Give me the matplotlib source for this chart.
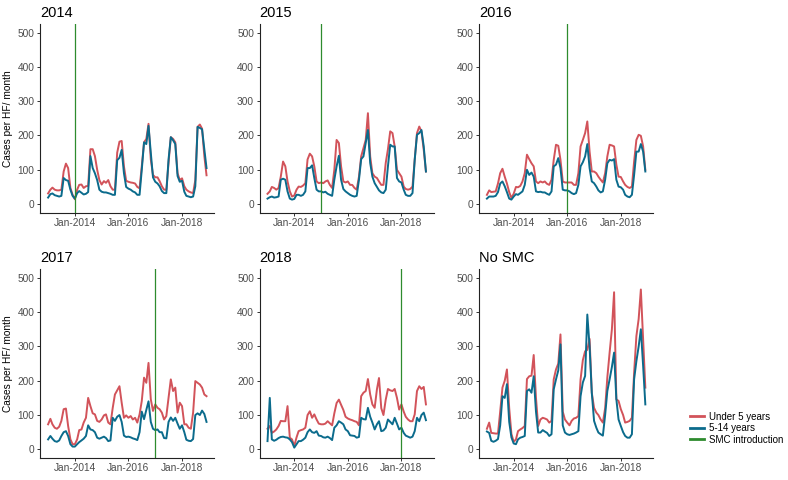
import matplotlib
matplotlib.use('Agg')
import matplotlib.pyplot as plt
import matplotlib.dates as mdates
from matplotlib.lines import Line2D
import pandas as pd

plt.rcParams['font.family'] = ['Liberation Sans', 'DejaVu Sans']

# monthly data, Jan 2013 - Dec 2018
months = pd.date_range('2013-01-01', periods=72, freq='MS')

panels = ['2014', '2015', '2016', '2017', '2018', 'No SMC']
smc_start = ['2014-01-01', '2015-01-01', '2016-01-01', '2017-01-01', '2018-01-01', None]

u5_2014 = [31, 42, 48, 42, 40, 40, 42, 95, 118, 105, 47, 27,
           14, 42, 56, 57, 47, 52, 53, 160, 160, 140, 100, 70,
           57, 67, 62, 70, 52, 42, 42, 150, 182, 184, 110, 68,
           65, 63, 62, 60, 50, 46, 110, 180, 190, 234, 130, 85,
           78, 78, 67, 52, 42, 42, 120, 195, 190, 180, 90, 70,
           75, 52, 42, 37, 34, 32, 70, 225, 232, 220, 140, 84]
o5_2014 = [19, 29, 31, 26, 24, 22, 24, 76, 70, 68, 42, 24,
           16, 32, 38, 33, 28, 30, 35, 140, 105, 90, 70, 42,
           36, 34, 34, 32, 30, 27, 27, 128, 135, 158, 90, 50,
           45, 42, 37, 34, 27, 27, 100, 180, 175, 228, 150, 78,
           65, 60, 52, 38, 32, 32, 130, 195, 186, 175, 82, 65,
           68, 36, 24, 22, 20, 22, 52, 225, 222, 218, 160, 105]

u5_2015 = [30, 37, 50, 47, 42, 47, 80, 124, 110, 66, 37, 22,
           25, 42, 51, 50, 54, 61, 130, 147, 139, 110, 66, 61,
           63, 61, 66, 69, 56, 47, 100, 187, 178, 110, 66, 63,
           66, 56, 56, 47, 42, 80, 139, 163, 187, 265, 139, 90,
           80, 76, 66, 56, 56, 120, 160, 212, 207, 168, 100, 90,
           80, 51, 44, 42, 44, 51, 130, 207, 226, 212, 158, 95]
o5_2015 = [16, 20, 22, 19, 20, 22, 71, 74, 71, 37, 16, 13,
           15, 27, 27, 24, 27, 37, 105, 105, 113, 76, 42, 37,
           37, 34, 36, 30, 27, 24, 71, 110, 141, 71, 44, 37,
           32, 27, 24, 22, 24, 71, 131, 139, 178, 216, 120, 80,
           61, 50, 40, 34, 32, 42, 110, 173, 168, 168, 76, 66,
           63, 42, 27, 24, 24, 32, 129, 202, 207, 216, 168, 95]

u5_2016 = [27, 40, 35, 36, 37, 60, 90, 103, 80, 60, 35, 18,
           30, 50, 49, 53, 66, 90, 144, 131, 119, 110, 66, 61,
           66, 63, 66, 59, 56, 71, 129, 173, 170, 129, 66, 63,
           63, 63, 63, 56, 56, 90, 168, 187, 207, 241, 153, 95,
           95, 90, 80, 71, 63, 90, 139, 173, 171, 168, 115, 80,
           79, 66, 56, 50, 47, 51, 124, 187, 202, 199, 168, 100]
o5_2016 = [16, 22, 22, 22, 24, 35, 60, 66, 52, 35, 16, 13,
           22, 29, 27, 32, 37, 56, 100, 85, 92, 80, 37, 35,
           36, 34, 34, 30, 27, 37, 110, 115, 134, 105, 42, 40,
           40, 37, 32, 29, 32, 56, 110, 122, 139, 175, 105, 66,
           61, 51, 40, 34, 37, 71, 119, 129, 127, 131, 71, 51,
           49, 42, 27, 22, 20, 27, 85, 153, 153, 175, 153, 95]

u5_2017 = [73, 89, 73, 63, 60, 66, 83, 117, 119, 68, 29, 15,
           15, 29, 56, 58, 78, 92, 150, 126, 105, 102, 83, 80,
           87, 99, 102, 78, 73, 121, 160, 172, 184, 136, 92, 99,
           92, 97, 87, 92, 78, 102, 141, 209, 194, 252, 146, 112,
           131, 121, 117, 107, 87, 97, 150, 204, 170, 180, 107, 136,
           126, 73, 73, 63, 60, 107, 199, 194, 189, 180, 160, 155]
o5_2017 = [29, 39, 31, 24, 22, 26, 39, 50, 53, 39, 15, 8,
           8, 15, 21, 26, 31, 39, 70, 58, 56, 50, 34, 31,
           34, 37, 33, 24, 26, 92, 83, 95, 100, 80, 40, 36,
           37, 35, 32, 30, 27, 50, 110, 88, 115, 140, 80, 60,
           56, 58, 50, 50, 33, 32, 80, 93, 83, 92, 75, 60,
           70, 50, 28, 25, 24, 30, 100, 105, 100, 113, 103, 80]

u5_2018 = [60, 68, 48, 52, 58, 68, 83, 82, 82, 126, 34, 29,
           10, 35, 53, 56, 58, 63, 100, 111, 92, 102, 87, 75,
           73, 73, 75, 82, 76, 70, 105, 135, 145, 130, 115, 95,
           90, 87, 85, 82, 80, 70, 155, 165, 170, 205, 160, 131,
           121, 175, 208, 120, 100, 145, 176, 172, 170, 176, 150, 116,
           131, 110, 95, 87, 82, 82, 102, 170, 184, 176, 182, 131]
o5_2018 = [24, 150, 29, 25, 28, 33, 36, 37, 35, 34, 29, 21,
           5, 15, 24, 24, 28, 34, 50, 58, 50, 48, 53, 40,
           39, 35, 34, 37, 33, 27, 63, 70, 82, 78, 73, 58,
           53, 41, 40, 39, 34, 36, 92, 88, 87, 121, 95, 78,
           58, 73, 82, 53, 55, 63, 87, 80, 73, 92, 75, 58,
           63, 48, 40, 37, 34, 37, 53, 92, 82, 100, 107, 85]

u5_nosmc = [60, 78, 48, 47, 46, 46, 110, 180, 200, 233, 120, 45,
            22, 29, 53, 58, 62, 68, 205, 213, 215, 275, 150, 68,
            87, 92, 90, 87, 78, 83, 204, 233, 250, 335, 110, 87,
            78, 70, 83, 90, 92, 97, 204, 260, 286, 290, 322, 165,
            121, 107, 100, 87, 78, 120, 210, 282, 350, 458, 146, 141,
            117, 100, 78, 80, 83, 92, 223, 330, 380, 466, 320, 180]
o5_nosmc = [52, 48, 25, 22, 25, 30, 70, 155, 150, 190, 80, 35,
            17, 15, 29, 34, 36, 39, 170, 175, 165, 213, 110, 49,
            49, 56, 52, 48, 39, 44, 175, 204, 230, 306, 70, 49,
            44, 42, 44, 46, 49, 53, 155, 195, 214, 393, 300, 165,
            83, 63, 49, 44, 40, 100, 170, 204, 240, 282, 146, 87,
            68, 50, 39, 34, 34, 44, 204, 257, 300, 350, 243, 131]

under5 = [u5_2014, u5_2015, u5_2016, u5_2017, u5_2018, u5_nosmc]
over5 = [o5_2014, o5_2015, o5_2016, o5_2017, o5_2018, o5_nosmc]

red = '#D2535A'
blue = '#0B6B8C'
green = '#2E8B2E'

fig, axes = plt.subplots(2, 3, figsize=(7.88, 4.8), dpi=100)
fig.subplots_adjust(left=0.051, right=0.829, bottom=0.046, top=0.95,
                    wspace=0.259, hspace=0.30)

pad = (months[-1] - months[0]) * 0.05
for i, ax in enumerate(axes.flat):
    ax.plot(months, under5[i], color=red, lw=1.4)
    ax.plot(months, over5[i], color=blue, lw=1.4)
    if smc_start[i] is not None:
        ax.axvline(pd.Timestamp(smc_start[i]), color=green, lw=0.9)
    ax.set_xlim(months[0] - pad, months[-1] + pad)
    ax.set_ylim(-25, 525)
    ax.set_yticks([0, 100, 200, 300, 400, 500])
    ax.set_xticks([pd.Timestamp('2014-01-01'), pd.Timestamp('2016-01-01'),
                   pd.Timestamp('2018-01-01')])
    ax.xaxis.set_major_formatter(mdates.DateFormatter('%b-%Y'))
    ax.set_title(panels[i], loc='left', fontsize=10.5, pad=5)
    for s in ['top', 'right']:
        ax.spines[s].set_visible(False)
    for s in ['left', 'bottom']:
        ax.spines[s].set_linewidth(0.8)
        ax.spines[s].set_color('#222222')
    ax.tick_params(labelsize=7.3, labelcolor='#4D4D4D', length=2.5,
                   width=0.7, color='#333333', pad=1.5)
    if i % 3 == 0:
        ax.set_ylabel('Cases per HF/ month', fontsize=7.3, labelpad=3)

handles = [Line2D([0], [0], color=red, lw=2),
           Line2D([0], [0], color=blue, lw=2),
           Line2D([0], [0], color=green, lw=2)]
fig.legend(handles, ['Under 5 years', '5-14 years', 'SMC introduction'],
           loc='center left', bbox_to_anchor=(0.865, 0.108), frameon=False,
           fontsize=7, handlelength=1.4, handletextpad=0.5, labelspacing=0.15)

fig.savefig('out.png', dpi=100)
